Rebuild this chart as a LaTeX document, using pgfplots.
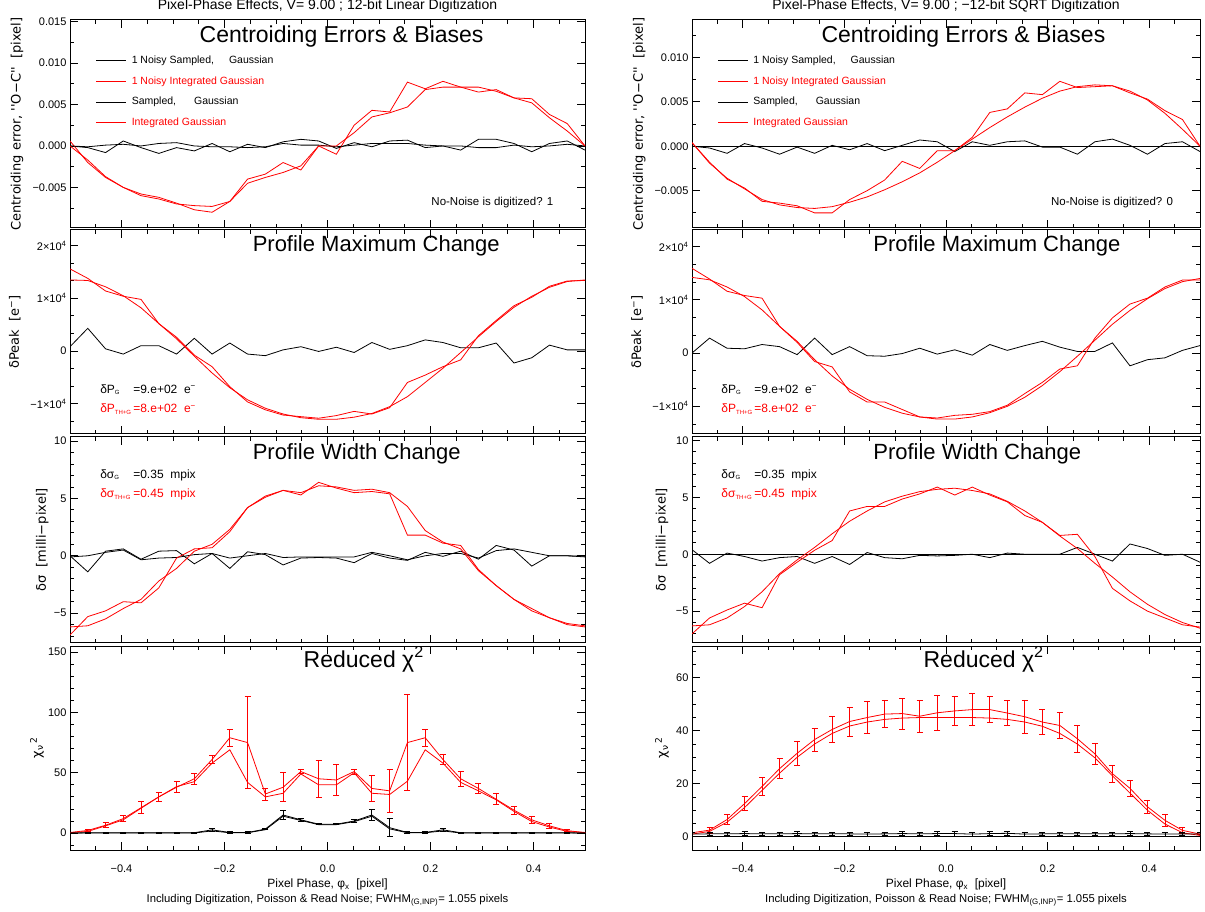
\documentclass[border=0pt]{standalone}
\usepackage{fontspec}
\setmainfont{Liberation Sans}
\newfontfamily\dv{DejaVu Sans}
\usepackage{pgfplots}
\usepackage{pgfplotstable}
\pgfplotsset{compat=1.18}
\newcommand{\fs}[1]{\fontsize{#1}{#1}\selectfont}
\newcommand{\sbs}[1]{\textsubscript{\fontsize{6}{6}\selectfont #1}}

% ---------- Panel 1 (centroid error) ----------
\pgfplotstableread{
x bn bs rn rs
-0.5000 0.0000 0.0000 0.0006 0.0000
-0.4655 -0.0002 -0.0001 -0.0020 -0.0017
-0.4310 -0.0008 0.0001 -0.0038 -0.0037
-0.3966 0.0006 0.0002 -0.0050 -0.0050
-0.3621 -0.0002 0.0000 -0.0058 -0.0060
-0.3276 -0.0009 0.0003 -0.0062 -0.0064
-0.2931 -0.0002 0.0004 -0.0069 -0.0070
-0.2586 -0.0006 0.0000 -0.0077 -0.0072
-0.2241 0.0003 -0.0001 -0.0080 -0.0073
-0.1897 -0.0007 -0.0001 -0.0067 -0.0067
-0.1552 0.0002 -0.0002 -0.0040 -0.0045
-0.1207 -0.0002 -0.0001 -0.0034 -0.0038
-0.0862 0.0005 0.0003 -0.0020 -0.0032
-0.0517 0.0008 0.0001 -0.0029 -0.0024
-0.0172 0.0006 0.0001 0.0000 0.0000
0.0172 -0.0003 -0.0001 -0.0010 0.0000
0.0517 0.0004 0.0001 0.0025 0.0016
0.0862 -0.0001 0.0003 0.0043 0.0035
0.1207 0.0006 0.0003 0.0041 0.0040
0.1552 0.0007 0.0003 0.0077 0.0047
0.1897 -0.0002 0.0001 0.0069 0.0068
0.2241 0.0000 0.0000 0.0078 0.0071
0.2586 -0.0005 0.0000 0.0071 0.0071
0.2931 0.0008 -0.0002 0.0065 0.0071
0.3276 0.0008 -0.0002 0.0068 0.0066
0.3621 0.0003 0.0001 0.0058 0.0058
0.3966 -0.0007 -0.0001 0.0057 0.0052
0.4310 0.0003 0.0000 0.0038 0.0034
0.4655 0.0006 0.0002 0.0027 0.0018
0.5000 -0.0005 0.0000 0.0000 0.0000
}\pOneL

\pgfplotstableread{
x bn bs rn rs
-0.5000 0.0000 0 0.0004 0.0004
-0.4655 -0.0002 0 -0.0018 -0.0019
-0.4310 -0.0008 0 -0.0037 -0.0036
-0.3966 0.0003 0 -0.0047 -0.0048
-0.3621 -0.0002 0 -0.0062 -0.0060
-0.3276 -0.0009 0 -0.0064 -0.0066
-0.2931 -0.0001 0 -0.0067 -0.0069
-0.2586 -0.0008 0 -0.0075 -0.0070
-0.2241 0.0001 0 -0.0075 -0.0068
-0.1897 -0.0004 0 -0.0060 -0.0063
-0.1552 0.0003 0 -0.0050 -0.0057
-0.1207 -0.0005 0 -0.0038 -0.0049
-0.0862 0.0001 0 -0.0017 -0.0040
-0.0517 0.0007 0 -0.0025 -0.0030
-0.0172 0.0005 0 -0.0005 -0.0018
0.0172 -0.0006 0 -0.0005 -0.0005
0.0517 0.0005 0 0.0010 0.0008
0.0862 0.0001 0 0.0038 0.0021
0.1207 0.0005 0 0.0042 0.0033
0.1552 0.0006 0 0.0060 0.0044
0.1897 -0.0001 0 0.0058 0.0054
0.2241 -0.0001 0 0.0073 0.0062
0.2586 -0.0009 0 0.0066 0.0067
0.2931 0.0005 0 0.0067 0.0069
0.3276 0.0008 0 0.0068 0.0068
0.3621 0.0001 0 0.0060 0.0062
0.3966 -0.0009 0 0.0053 0.0052
0.4310 0.0003 0 0.0040 0.0037
0.4655 0.0005 0 0.0030 0.0019
0.5000 -0.0006 0 0.0000 0.0000
}\pOneR

% ---------- Panel 2 (peak change) ----------
\pgfplotstableread{
x bn rn rs
-0.5000 800 15600 13500
-0.4655 4300 13800 13400
-0.4310 400 11400 12200
-0.3966 -600 10400 10500
-0.3621 1000 9800 8200
-0.3276 1000 5200 5200
-0.2931 -600 2600 2300
-0.2586 2400 -800 -1000
-0.2241 -600 -3000 -4200
-0.1897 1500 -6800 -7000
-0.1552 -600 -9700 -9300
-0.1207 -900 -11200 -10900
-0.0862 200 -12200 -12000
-0.0517 800 -12500 -12700
-0.0172 -100 -12800 -13000
0.0172 700 -12300 -13000
0.0517 -300 -11500 -12600
0.0862 1600 -12000 -11900
0.1207 300 -10800 -10600
0.1552 1000 -6000 -8700
0.1897 2100 -4600 -6000
0.2241 1600 -3000 -3300
0.2586 600 -1700 -300
0.2931 600 2900 2700
0.3276 1500 5800 5600
0.3621 -2300 8600 8300
0.3966 -1300 10200 10400
0.4310 1100 12300 12100
0.4655 200 13300 13200
0.5000 200 13400 13500
}\pTwoL

\pgfplotstableread{
x bn rn rs
-0.5000 0 15900 14200
-0.4655 2800 13900 13750
-0.4310 900 11600 12400
-0.3966 800 10800 10600
-0.3621 1600 10300 8100
-0.3276 1200 5000 5000
-0.2931 -300 2000 2200
-0.2586 2800 -1600 -1250
-0.2241 -300 -2600 -4300
-0.1897 1200 -7300 -6800
-0.1552 -500 -9200 -8700
-0.1207 -600 -9200 -10200
-0.0862 -100 -10600 -11300
-0.0517 900 -12000 -12000
-0.0172 -200 -12200 -12400
0.0172 600 -11700 -12400
0.0517 -400 -11500 -12000
0.0862 1600 -11000 -11200
0.1207 500 -9800 -10000
0.1552 1400 -7600 -8300
0.1897 2200 -5500 -6100
0.2241 1100 -3000 -3500
0.2586 300 -2400 -600
0.2931 300 2800 2400
0.3276 1900 6600 5400
0.3621 -2400 9200 8000
0.3966 -1250 10300 10200
0.4310 -900 12400 12100
0.4655 500 13700 13400
0.5000 1400 13700 14000
}\pTwoR

% ---------- Panel 3 (width change) ----------
\pgfplotstableread{
x bn bs rn rs
-0.5000 0.0 -0.1 -6.9 -6.2
-0.4655 -1.4 0.0 -5.3 -6.1
-0.4310 0.4 0.3 -4.8 -5.5
-0.3966 0.6 0.5 -4.0 -4.6
-0.3621 -0.3 -0.35 -4.1 -3.8
-0.3276 0.4 -0.2 -2.8 -2.2
-0.2931 0.45 -0.15 -0.2 -1.1
-0.2586 -0.7 0.1 0.6 0.4
-0.2241 0.2 0.2 0.7 1.0
-0.1897 -1.1 -0.2 2.1 2.3
-0.1552 0.35 0.0 4.2 4.2
-0.1207 0.1 0.2 5.2 5.1
-0.0862 -0.8 -0.15 5.7 5.7
-0.0517 -0.2 -0.1 5.3 5.5
-0.0172 -0.15 -0.1 6.4 6.1
0.0172 -0.2 -0.1 5.9 6.0
0.0517 -0.6 -0.1 5.5 5.7
0.0862 0.2 0.3 5.6 5.8
0.1207 -0.2 0.0 5.4 5.5
0.1552 -0.4 -0.35 1.8 4.3
0.1897 0.3 0.0 1.8 2.2
0.2241 -0.05 0.2 1.1 1.2
0.2586 0.4 0.2 0.9 0.6
0.2931 -0.3 -0.2 -1.2 -1.3
0.3276 0.9 0.45 -2.6 -2.6
0.3621 0.5 0.6 -3.8 -3.8
0.3966 -0.9 0.3 -4.6 -4.8
0.4310 0.0 0.0 -5.4 -5.4
0.4655 0.0 0.0 -5.9 -6.0
0.5000 -0.1 -0.05 -6.1 -6.2
}\pThreeL

\pgfplotstableread{
x bn bs rn rs
-0.5000 0.4 0 -7.0 -6.3
-0.4655 -0.8 0 -5.6 -6.2
-0.4310 0.1 0 -4.9 -5.6
-0.3966 -0.2 0 -4.3 -4.6
-0.3621 -0.6 0 -4.7 -3.3
-0.3276 -0.3 0 -1.8 -1.7
-0.2931 -0.2 0 -0.7 -0.5
-0.2586 -0.8 0 0.35 0.6
-0.2241 -0.2 0 1.2 1.8
-0.1897 -0.9 0 3.8 2.9
-0.1552 0.15 0 4.2 3.8
-0.1207 -0.3 0 4.2 4.6
-0.0862 -0.4 0 4.85 5.1
-0.0517 -0.1 0 5.3 5.5
-0.0172 -0.15 0 5.9 5.7
0.0172 -0.1 0 5.2 5.8
0.0517 0.0 0 5.9 5.6
0.0862 -0.3 0 5.2 5.3
0.1207 0.1 0 4.6 4.65
0.1552 0.0 0 3.4 3.8
0.1897 0.0 0 2.8 2.8
0.2241 0.0 0 1.65 1.6
0.2586 0.6 0 1.75 0.5
0.2931 0.0 0 -0.2 -0.8
0.3276 -0.6 0 -3.0 -2.0
0.3621 0.9 0 -4.1 -3.3
0.3966 0.5 0 -5.0 -4.4
0.4310 -0.1 0 -5.6 -5.3
0.4655 0.0 0 -6.2 -6.0
0.5000 -0.7 0 -6.4 -6.5
}\pThreeR

% ---------- Panel 4 (reduced chi^2) ----------
\pgfplotstableread{
x rA eA rB bA eb bB
-0.5000 0.5 0 0.3 0 0 0
-0.4655 2.2 1 1.4 0.3 0.6 0.1
-0.4310 6.5 2 6 0.3 0.6 0.1
-0.3966 12 2.5 11 0.3 0.6 0.1
-0.3621 21 5 20.6 0.3 0.6 0.1
-0.3276 30 4 30 0.3 0.6 0.1
-0.2931 38 4.5 38.5 0.3 0.6 0.1
-0.2586 45 4.5 42.6 0.3 0.6 0.1
-0.2241 61 3.5 58 2.7 1.5 1.8
-0.1897 79 7 69 0.5 0.6 0.3
-0.1552 75 38 42 0.5 0.6 0.3
-0.1207 32.4 5 30 3.3 0.6 2.8
-0.0862 38 12 33 15 4 14
-0.0517 51 1.5 49 11 1 10.5
-0.0172 45 15.5 40 7.4 0.6 7
0.0172 44 13 40 7.4 0.6 7
0.0517 51 2 50 10 1 9.5
0.0862 37 11 33 15 4.5 14
0.1207 35 18 32 4.5 7.5 3.5
0.1552 75 40 43 0.5 0.6 0.3
0.1897 79 7 69 0.5 0.6 0.3
0.2241 61 4 58 2.7 1.5 1.8
0.2586 45 6 42 0.3 0.6 0.1
0.2931 37 4.5 35 0.3 0.6 0.1
0.3276 28 4.5 27.5 0.3 0.6 0.1
0.3621 19 3.5 18 0.3 0.6 0.1
0.3966 11 3 9.6 0.3 0.6 0.1
0.4310 6 2 5 0.3 0.6 0.1
0.4655 2 1 1.4 0.3 0.6 0.1
0.5000 0.5 0 0.3 0 0 0
}\pFourL

\pgfplotstableread{
x rA eA rB bA eb bB
-0.5000 1.5 0 1 1.0 0.7 0
-0.4655 2.5 1.1 2 1.1 0.7 0
-0.4310 6.5 2 5.5 1.1 0.7 0
-0.3966 12.5 2.7 11 1.2 0.7 0
-0.3621 19 3.5 17.5 1.1 0.7 0
-0.3276 25.7 3.8 24 1.1 0.7 0
-0.2931 31.5 4.5 30 1.2 0.7 0
-0.2586 36.7 4.3 35 1.1 0.7 0
-0.2241 40.5 5 39 1.1 0.7 0
-0.1897 43.5 5.5 41.8 1.1 0.7 0
-0.1552 45 6 43.3 1.0 0.7 0
-0.1207 46.3 5 44.3 1.1 0.7 0
-0.0862 46.5 5.8 44.8 1.2 0.7 0
-0.0517 45.5 6 45 1.1 0.7 0
-0.0172 46.8 6.5 45 1.2 0.7 0
0.0172 47.5 5.5 45 1.2 0.9 0
0.0517 48 6 45 1.0 0.7 0
0.0862 48 5 44.8 1.2 0.7 0
0.1207 46.7 4.8 44.3 1.3 0.7 0
0.1552 45.3 6.2 43.3 1.0 0.7 0
0.1897 43.3 4.8 41.7 1.1 0.7 0
0.2241 42 5 39 1.1 0.7 0
0.2586 37 5 35 1.1 0.7 0
0.2931 31.3 3.8 29.8 1.1 0.7 0
0.3276 23.8 3.3 23 1.1 0.7 0
0.3621 18.3 3 16.5 1.2 0.7 0
0.3966 11.3 2.3 10 1.1 0.7 0
0.4310 6.2 2.2 4.8 1.0 0.7 0
0.4655 2.4 1 1.5 1.1 0.7 0
0.5000 1 0 0.5 1.0 0.7 0
}\pFourR

\pgfplotsset{
  panel/.style={
    scale only axis, xmin=-0.5, xmax=0.5,
    scaled ticks=false,
    tick align=inside,
    xtick={-0.4,-0.2,0,0.2,0.4},
    minor xtick={-0.45,-0.35,-0.3,-0.25,-0.15,-0.1,-0.05,0.05,0.1,0.15,0.25,0.3,0.35,0.45},
    xticklabels={},
    major tick length=8pt, minor tick length=4pt,
    axis line style={line width=1pt},
    every tick/.append style={line width=0.8pt, black},
    tick label style={font=\fs{11}},
    ylabel style={font=\dv\fs{13}, anchor=center},
    clip=true,
  },
  bottom/.style={
    xticklabels={−0.4,−0.2,0.0,0.2,0.4},
    xticklabel style={yshift=-11pt},
    xlabel={\fs{12}Pixel Phase, φ\textsubscript{x}\ \ [pixel]\\\fs{11.3}Including Digitization, Poisson \& Read Noise; FWHM\textsubscript{(G,INP)}= 1.055 pixels},
    xlabel style={align=center, font=\fontsize{12}{15}\selectfont, at={(axis description cs:0.5,0)}, anchor=north, yshift=-29pt, inner sep=0pt},
  },
  topleg/.style={
    legend style={at={(rel axis cs:0.05,0.83)}, anchor=north west, draw=none, fill=none,
      inner sep=0pt, row sep=10.7pt, column sep=5pt,
      nodes={text height=8pt, text depth=2pt, inner sep=0pt, font=\fs{10.5}}},
    legend cell align=left,
    legend image code/.code={\draw[##1] (0pt,0pt) -- (30pt,0pt);},
  },
  bl/.style={black, line width=0.8pt, mark=none},
  rd/.style={red, line width=0.8pt, mark=none},
  ttl/.style={title style={font=\fs{14}, at={(axis description cs:0.5,1)}, anchor=south, yshift=0pt, inner sep=1pt}},
}

\begin{document}
\begin{tikzpicture}
\path[use as bounding box] (0pt,0pt) rectangle (1205pt,911pt);

% ================= LEFT COLUMN =================
\begin{axis}[panel, topleg, ttl, at={(70pt,683pt)}, anchor=south west, width=515pt, height=208pt,
  ymin=-0.0099, ymax=0.0152,
  ytick={-0.005,0,0.005,0.010,0.015}, yticklabels={−0.005,0.000,0.005,0.010,0.015},
  minor ytick={-0.0075,-0.0025,0.0025,0.0075,0.0125},
  ylabel={Centroiding error, ''O−C''\ \ [pixel]},
  ylabel style={at={(axis description cs:-0.103,0.5)}},
  title={Pixel-Phase Effects, V= 9.00 ; 12-bit Linear Digitization},
]
\addplot[bl] table[x=x,y=bn]{\pOneL};
\addlegendentry{1 Noisy Sampled,\hspace{15pt}Gaussian}
\addplot[rd] table[x=x,y=rn]{\pOneL};
\addlegendentry[text=red]{1 Noisy Integrated Gaussian}
\addplot[bl] table[x=x,y=bs]{\pOneL};
\addlegendentry{Sampled,\hspace{18pt}Gaussian}
\addplot[rd] table[x=x,y=rs]{\pOneL};
\addlegendentry[text=red]{Integrated Gaussian}
\node[anchor=base west, font=\fs{23}] at (rel axis cs:0.245,0.89) {Centroiding Errors \& Biases};
\node[anchor=base west, font=\fs{11.5}] at (rel axis cs:0.695,0.11) {No-Noise is digitized? 1};
\end{axis}

\begin{axis}[panel, at={(70pt,477pt)}, anchor=south west, width=515pt, height=204pt,
  ymin=-15800, ymax=23000,
  ytick={-10000,0,10000,20000}, yticklabels={−1×10\textsuperscript{4},0,1×10\textsuperscript{4},2×10\textsuperscript{4}},
  minor ytick={-13333,-6667,-3333,3333,6667,13333,16667},
  ylabel={δPeak\ \ [e\textsuperscript{−}]},
  ylabel style={at={(axis description cs:-0.107,0.5)}},
]
\addplot[bl] table[x=x,y=bn]{\pTwoL};
\addplot[rd] table[x=x,y=rn]{\pTwoL};
\addplot[rd] table[x=x,y=rs]{\pTwoL};
\node[anchor=base west, font=\fs{22}] at (rel axis cs:0.348,0.897) {Profile Maximum Change};
\node[anchor=base west, font=\fs{12}] at (rel axis cs:0.052,0.20) {\makebox[33pt][l]{δP\sbs{G}}=9.e+02\ \ e\textsuperscript{−}};
\node[anchor=base west, font=\fs{12}, text=red] at (rel axis cs:0.052,0.103) {\makebox[33pt][l]{δP\sbs{TH+G}}=8.e+02\ \ e\textsuperscript{−}};
\end{axis}

\begin{axis}[panel, at={(70pt,268pt)}, anchor=south west, width=515pt, height=206pt,
  ymin=-7.6, ymax=10.35,
  ytick={-5,0,5,10}, yticklabels={−5,0,5,10},
  minor ytick={-7,-6,-4,-3,-2,-1,1,2,3,4,6,7,8,9},
  ylabel={δσ\ \ [milli−pixel]},
  ylabel style={at={(axis description cs:-0.054,0.5)}},
]
\addplot[bl] table[x=x,y=bn]{\pThreeL};
\addplot[bl] table[x=x,y=bs]{\pThreeL};
\addplot[rd] table[x=x,y=rn]{\pThreeL};
\addplot[rd] table[x=x,y=rs]{\pThreeL};
\node[anchor=base west, font=\fs{22}] at (rel axis cs:0.348,0.893) {Profile Width Change};
\node[anchor=base west, font=\fs{12}] at (rel axis cs:0.052,0.80) {\makebox[33pt][l]{δσ\sbs{G}}=0.35\ \ mpix};
\node[anchor=base west, font=\fs{12}, text=red] at (rel axis cs:0.052,0.704) {\makebox[33pt][l]{δσ\sbs{TH+G}}=0.45\ \ mpix};
\end{axis}

\begin{axis}[panel, bottom, at={(70pt,61pt)}, anchor=south west, width=515pt, height=204pt,
  ymin=-14, ymax=155,
  ytick={0,50,100,150}, yticklabels={0,50,100,150},
  minor ytick={-10,10,20,30,40,60,70,80,90,110,120,130,140},
  ylabel={χ\textsubscript{ν}\textsuperscript{\,2}},
  ylabel style={at={(axis description cs:-0.064,0.5)}},
]
\addplot[rd] table[x=x,y=rB]{\pFourL};
\addplot[rd, error bars/.cd, y dir=both, y explicit, error bar style={red, line width=0.8pt},
  error mark options={rotate=90, mark size=3pt, line width=0.8pt, red}]
  table[x=x,y=rA,y error=eA]{\pFourL};
\addplot[bl] table[x=x,y=bB]{\pFourL};
\addplot[bl, error bars/.cd, y dir=both, y explicit, error bar style={black, line width=0.8pt},
  error mark options={rotate=90, mark size=3pt, line width=0.8pt, black}]
  table[x=x,y=bA,y error=eb]{\pFourL};
\node[anchor=base west, font=\fs{23}] at (rel axis cs:0.447,0.897) {Reduced χ\textsuperscript{2}};
\end{axis}

% ================= RIGHT COLUMN =================
\begin{axis}[panel, topleg, ttl, at={(692pt,683pt)}, anchor=south west, width=508pt, height=208pt,
  ymin=-0.0092, ymax=0.0142,
  ytick={-0.005,0,0.005,0.010}, yticklabels={−0.005,0.000,0.005,0.010},
  minor ytick={-0.0075,-0.0025,0.0025,0.0075,0.0125},
  ylabel={Centroiding error, ''O−C''\ \ [pixel]},
  ylabel style={at={(axis description cs:-0.104,0.5)}},
  title={Pixel-Phase Effects, V= 9.00 ; −12-bit SQRT Digitization},
]
\addplot[bl] table[x=x,y=bn]{\pOneR};
\addlegendentry{1 Noisy Sampled,\hspace{15pt}Gaussian}
\addplot[rd] table[x=x,y=rn]{\pOneR};
\addlegendentry[text=red]{1 Noisy Integrated Gaussian}
\addplot[bl] table[x=x,y=bs]{\pOneR};
\addlegendentry{Sampled,\hspace{18pt}Gaussian}
\addplot[rd] table[x=x,y=rs]{\pOneR};
\addlegendentry[text=red]{Integrated Gaussian}
\node[anchor=base west, font=\fs{23}] at (rel axis cs:0.248,0.89) {Centroiding Errors \& Biases};
\node[anchor=base west, font=\fs{11.5}] at (rel axis cs:0.70,0.11) {No-Noise is digitized? 0};
\end{axis}

\begin{axis}[panel, at={(692pt,477pt)}, anchor=south west, width=508pt, height=204pt,
  ymin=-15200, ymax=23100,
  ytick={-10000,0,10000,20000}, yticklabels={−1×10\textsuperscript{4},0,1×10\textsuperscript{4},2×10\textsuperscript{4}},
  minor ytick={-13333,-6667,-3333,3333,6667,13333,16667},
  ylabel={δPeak\ \ [e\textsuperscript{−}]},
  ylabel style={at={(axis description cs:-0.108,0.5)}},
]
\addplot[bl] table[x=x,y=bn]{\pTwoR};
\addplot[rd] table[x=x,y=rn]{\pTwoR};
\addplot[rd] table[x=x,y=rs]{\pTwoR};
\node[anchor=base west, font=\fs{22}] at (rel axis cs:0.35,0.897) {Profile Maximum Change};
\node[anchor=base west, font=\fs{12}] at (rel axis cs:0.051,0.20) {\makebox[33pt][l]{δP\sbs{G}}=9.e+02\ \ e\textsuperscript{−}};
\node[anchor=base west, font=\fs{12}, text=red] at (rel axis cs:0.051,0.103) {\makebox[33pt][l]{δP\sbs{TH+G}}=8.e+02\ \ e\textsuperscript{−}};
\end{axis}

\begin{axis}[panel, at={(692pt,268pt)}, anchor=south west, width=508pt, height=206pt,
  ymin=-7.8, ymax=10.3,
  ytick={-5,0,5,10}, yticklabels={−5,0,5,10},
  minor ytick={-7,-6,-4,-3,-2,-1,1,2,3,4,6,7,8,9},
  ylabel={δσ\ \ [milli−pixel]},
  ylabel style={at={(axis description cs:-0.059,0.5)}},
]
\addplot[bl] table[x=x,y=bs]{\pThreeR};
\addplot[bl] table[x=x,y=bn]{\pThreeR};
\addplot[rd] table[x=x,y=rn]{\pThreeR};
\addplot[rd] table[x=x,y=rs]{\pThreeR};
\node[anchor=base west, font=\fs{22}] at (rel axis cs:0.35,0.893) {Profile Width Change};
\node[anchor=base west, font=\fs{12}] at (rel axis cs:0.051,0.80) {\makebox[33pt][l]{δσ\sbs{G}}=0.35\ \ mpix};
\node[anchor=base west, font=\fs{12}, text=red] at (rel axis cs:0.051,0.704) {\makebox[33pt][l]{δσ\sbs{TH+G}}=0.45\ \ mpix};
\end{axis}

\begin{axis}[panel, bottom, at={(692pt,61pt)}, anchor=south west, width=508pt, height=204pt,
  ymin=-5, ymax=72,
  ytick={0,20,40,60}, yticklabels={0,20,40,60},
  minor ytick={5,10,15,25,30,35,45,50,55,65,70},
  ylabel={χ\textsubscript{ν}\textsuperscript{\,2}},
  ylabel style={at={(axis description cs:-0.059,0.5)}},
]
\addplot[rd] table[x=x,y=rB]{\pFourR};
\addplot[rd, error bars/.cd, y dir=both, y explicit, error bar style={red, line width=0.8pt},
  error mark options={rotate=90, mark size=3pt, line width=0.8pt, red}]
  table[x=x,y=rA,y error=eA]{\pFourR};
\addplot[bl] table[x=x,y=bB]{\pFourR};
\addplot[bl, error bars/.cd, y dir=both, y explicit, error bar style={black, line width=0.8pt},
  error mark options={rotate=90, mark size=3pt, line width=0.8pt, black}]
  table[x=x,y=bA,y error=eb]{\pFourR};
\node[anchor=base west, font=\fs{23}] at (rel axis cs:0.449,0.897) {Reduced χ\textsuperscript{2}};
\end{axis}
\end{tikzpicture}
\end{document}
